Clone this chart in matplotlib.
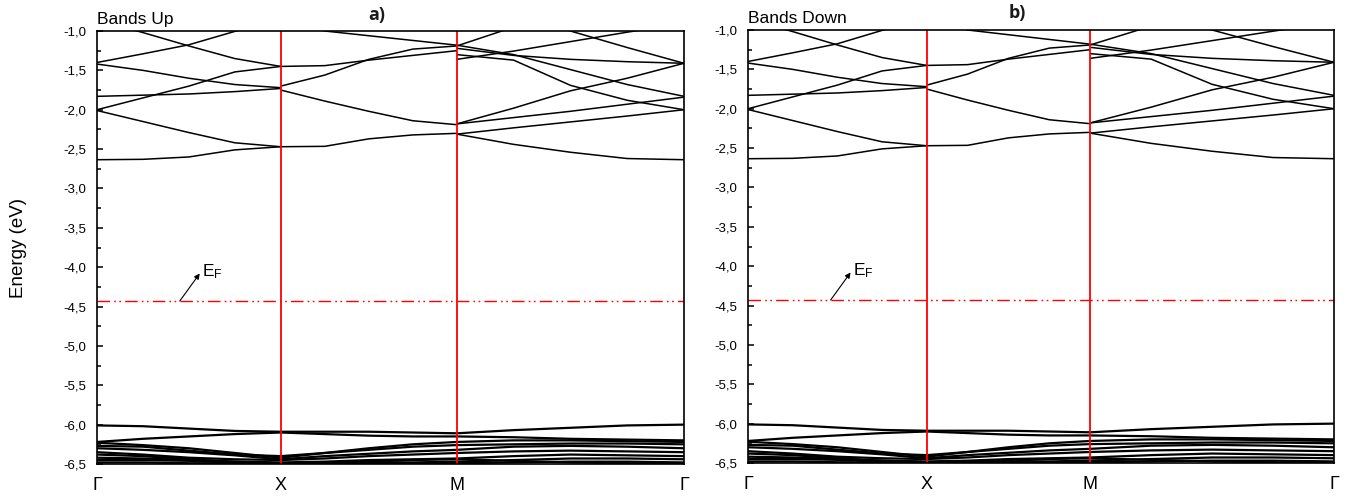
import numpy as np
import matplotlib
matplotlib.use("Agg")
import matplotlib.pyplot as plt
from matplotlib.ticker import MultipleLocator, FuncFormatter

plt.rcParams['font.family'] = ['Liberation Sans', 'DejaVu Sans']

# ---- path through the Brillouin zone ----
k_labels = ['Γ', 'X', 'M', 'Γ']
k_path_up = [0.0, 0.313, 0.613, 1.0]
k_path_down = [0.0, 0.305, 0.584, 1.0]
fermi_energy = -4.43

# energies sampled at 0, 1/4, 1/2, 3/4, 1 of each segment (eV)
cond_gx = [
    [-0.86, -1.02, -1.19, -1.35, -1.45],
    [-1.40, -1.29, -1.175, -1.005, -0.85],
    [-1.42, -1.50, -1.60, -1.68, -1.72],
    [-1.83, -1.815, -1.80, -1.77, -1.73],
    [-2.00, -1.85, -1.70, -1.52, -1.45],
    [-2.01, -2.15, -2.29, -2.42, -2.47],
    [-2.635, -2.63, -2.60, -2.51, -2.47],
]
cond_xm = [
    [-0.85, -1.00, -1.06, -1.12, -1.18],
    [-1.70, -1.56, -1.36, -1.23, -1.19],
    [-1.45, -1.44, -1.37, -1.31, -1.25],
    [-1.75, -1.89, -2.02, -2.14, -2.19],
    [-2.47, -2.465, -2.37, -2.32, -2.30],
]
cond_mg = [
    [-1.19, -0.95, -0.80, -0.70, -0.65],
    [-1.22, -1.31, -1.36, -1.39, -1.41],
    [-1.36, -1.255, -1.135, -1.015, -0.90],
    [-0.60, -0.78, -1.00, -1.21, -1.41],
    [-1.30, -1.37, -1.69, -1.88, -2.00],
    [-1.18, -1.30, -1.49, -1.68, -1.83],
    [-2.18, -1.98, -1.76, -1.60, -1.41],
    [-2.18, -2.10, -2.02, -1.93, -1.84],
    [-2.31, -2.23, -2.155, -2.08, -2.00],
    [-2.31, -2.44, -2.54, -2.62, -2.635],
]
val_gx = [
    [-6.01, -6.02, -6.05, -6.08, -6.09],
    [-6.22, -6.18, -6.15, -6.12, -6.10],
    [-6.23, -6.26, -6.30, -6.36, -6.42],
    [-6.27, -6.28, -6.33, -6.38, -6.40],
    [-6.30, -6.32, -6.35, -6.39, -6.44],
    [-6.35, -6.38, -6.42, -6.44, -6.45],
    [-6.38, -6.40, -6.44, -6.47, -6.48],
    [-6.42, -6.43, -6.45, -6.47, -6.49],
    [-6.45, -6.45, -6.46, -6.48, -6.50],
    [-6.48, -6.48, -6.49, -6.49, -6.50],
]
val_xm = [
    [-6.09, -6.09, -6.09, -6.10, -6.11],
    [-6.10, -6.12, -6.14, -6.15, -6.15],
    [-6.42, -6.36, -6.30, -6.25, -6.22],
    [-6.40, -6.36, -6.32, -6.28, -6.26],
    [-6.44, -6.40, -6.37, -6.34, -6.32],
    [-6.45, -6.43, -6.40, -6.38, -6.36],
    [-6.48, -6.47, -6.45, -6.44, -6.43],
    [-6.49, -6.49, -6.48, -6.48, -6.47],
    [-6.50, -6.50, -6.50, -6.49, -6.49],
    [-6.50, -6.49, -6.47, -6.45, -6.44],
]
val_mg = [
    [-6.11, -6.07, -6.04, -6.01, -6.00],
    [-6.15, -6.16, -6.18, -6.19, -6.20],
    [-6.22, -6.20, -6.20, -6.21, -6.22],
    [-6.26, -6.25, -6.24, -6.24, -6.25],
    [-6.32, -6.28, -6.27, -6.28, -6.30],
    [-6.36, -6.34, -6.33, -6.34, -6.35],
    [-6.43, -6.40, -6.38, -6.39, -6.40],
    [-6.47, -6.45, -6.43, -6.43, -6.44],
    [-6.49, -6.48, -6.47, -6.47, -6.48],
    [-6.44, -6.46, -6.48, -6.49, -6.50],
]

cond_segments = [cond_gx, cond_xm, cond_mg]
val_segments = [val_gx, val_xm, val_mg]

fig = plt.figure(figsize=(13.58, 4.98), dpi=100)
ax_up = fig.add_axes([97 / 1358, 1 - 464 / 498, 587 / 1358, 433 / 498])
ax_dn = fig.add_axes([748 / 1358, 1 - 463 / 498, 586 / 1358, 433 / 498])

comma_fmt = FuncFormatter(lambda v, p: f"{v:.1f}".replace('.', ','))


def draw_panel(ax, path, title, ylabel):
    for i in range(3):
        k = np.linspace(path[i], path[i + 1], 5)
        for e in cond_segments[i]:
            ax.plot(k, e, color='black', lw=1.1, solid_capstyle='butt')
        for e in val_segments[i]:
            ax.plot(k, e, color='black', lw=1.6, solid_capstyle='butt')
    for kx in path[1:3]:
        ax.axvline(kx, color='#ff0000', lw=1.3)
    ax.axhline(fermi_energy, color='#ff0000', lw=1.0,
               linestyle=(0, (9, 3, 1.2, 2.5, 1.2, 3)))
    ax.annotate('', xy=(0.175, -4.08), xytext=(0.141, fermi_energy),
                arrowprops=dict(arrowstyle='-|>', color='black', lw=0.8,
                                mutation_scale=8, shrinkA=0, shrinkB=0))
    ax.text(0.179, -4.06, r'$\mathregular{E_F}$', fontsize=12.5,
            ha='left', va='center')
    ax.set_xlim(0, 1)
    ax.set_ylim(-6.5, -1.0)
    ax.set_xticks(path)
    ax.set_xticklabels(k_labels, fontsize=13)
    ax.tick_params(axis='x', length=0, pad=9)
    ax.yaxis.set_major_locator(MultipleLocator(0.5))
    ax.yaxis.set_minor_locator(MultipleLocator(0.25))
    ax.yaxis.set_major_formatter(comma_fmt)
    ax.tick_params(axis='y', which='major', direction='in', length=4,
                   width=1.1, labelsize=9.5, pad=8)
    ax.tick_params(axis='y', which='minor', direction='in', length=3,
                   width=1.1)
    for s in ax.spines.values():
        s.set_linewidth(1.2)
    ax.text(0.0, 1.016, title, transform=ax.transAxes, fontsize=12.5,
            ha='left', va='baseline')
    if ylabel:
        ax.set_ylabel(ylabel, fontsize=13.5, labelpad=26)


draw_panel(ax_up, k_path_up, 'Bands Up', 'Energy (eV)')
draw_panel(ax_dn, k_path_down, 'Bands Down', None)

fig.text(377 / 1358, 1 - 15 / 498, 'a)', fontsize=13, fontweight='bold',
         family=['Open Sans', 'DejaVu Sans'], color='#1a1a1a',
         ha='center', va='center')
fig.text(1017 / 1358, 1 - 13 / 498, 'b)', fontsize=13, fontweight='bold',
         family=['Open Sans', 'DejaVu Sans'], color='#1a1a1a',
         ha='center', va='center')

fig.savefig('out.png', dpi=100)
